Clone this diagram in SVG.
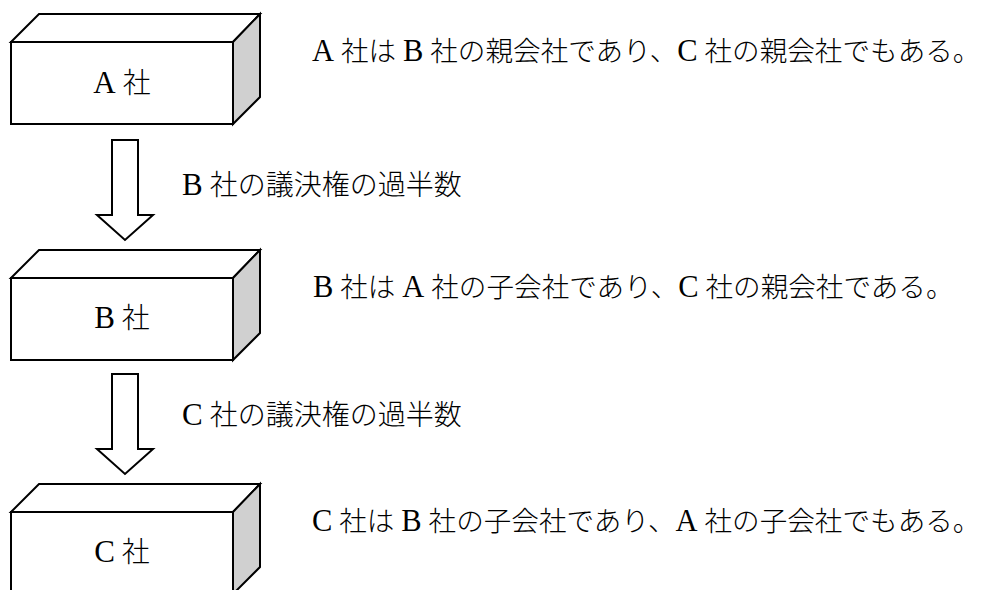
<svg xmlns="http://www.w3.org/2000/svg" width="988" height="590" viewBox="0 0 988 590">
<style>
.edge{fill:#fff;stroke:#000;stroke-width:2;stroke-linejoin:miter}
.side{fill:#d0d0d0;stroke:#000;stroke-width:2}
.arrow{fill:#fff;stroke:#000;stroke-width:2}
text{font-family:"Liberation Serif","Noto Sans CJK JP",serif;font-size:28px;font-weight:300;fill:#000}
.l{font-size:31px}
.lbl{text-anchor:middle}
.note{font-size:27.6px}
.note .l{font-size:30.5px}
</style>
<rect width="988" height="590" fill="#fff"/>
<defs>
<g id="box">
<polygon class="edge" points="11,42 39,14 260,14 233,42"/>
<polygon class="side" points="233,42 260,14 260,97 233,124"/>
<rect class="edge" x="11" y="42" width="222" height="82"/>
</g>
</defs>
<g id="nodeA">
<use href="#box"/>
<text class="lbl" x="122" y="93"><tspan class="l">A</tspan> 社</text>
</g>
<g id="nodeB" transform="translate(0,236)">
<use href="#box"/>
<text class="lbl" x="122" y="92"><tspan class="l">B</tspan> 社</text>
</g>
<g id="nodeC" transform="translate(0,470)">
<use href="#box"/>
<text class="lbl" x="122" y="92"><tspan class="l">C</tspan> 社</text>
</g>
<g id="connectors">
<polygon class="arrow" points="112,140 138,140 138,215 153,215 125,240 97,215 112,215"/>
<polygon class="arrow" points="112,374 138,374 138,449 153,449 125,474 97,449 112,449"/>
<text x="182" y="195"><tspan class="l">B</tspan> 社の議決権の過半数</text>
<text x="182" y="425"><tspan class="l">C</tspan> 社の議決権の過半数</text>
</g>
<g id="notes">
<text class="note" x="312" y="61"><tspan class="l">A</tspan> 社は <tspan class="l">B</tspan> 社の親会社であり、<tspan class="l">C</tspan> 社の親会社でもある。</text>
<text class="note" x="313" y="297"><tspan class="l">B</tspan> 社は <tspan class="l">A</tspan> 社の子会社であり、<tspan class="l">C</tspan> 社の親会社である。</text>
<text class="note" x="312" y="531"><tspan class="l">C</tspan> 社は <tspan class="l">B</tspan> 社の子会社であり、<tspan class="l">A</tspan> 社の子会社でもある。</text>
</g>
</svg>
